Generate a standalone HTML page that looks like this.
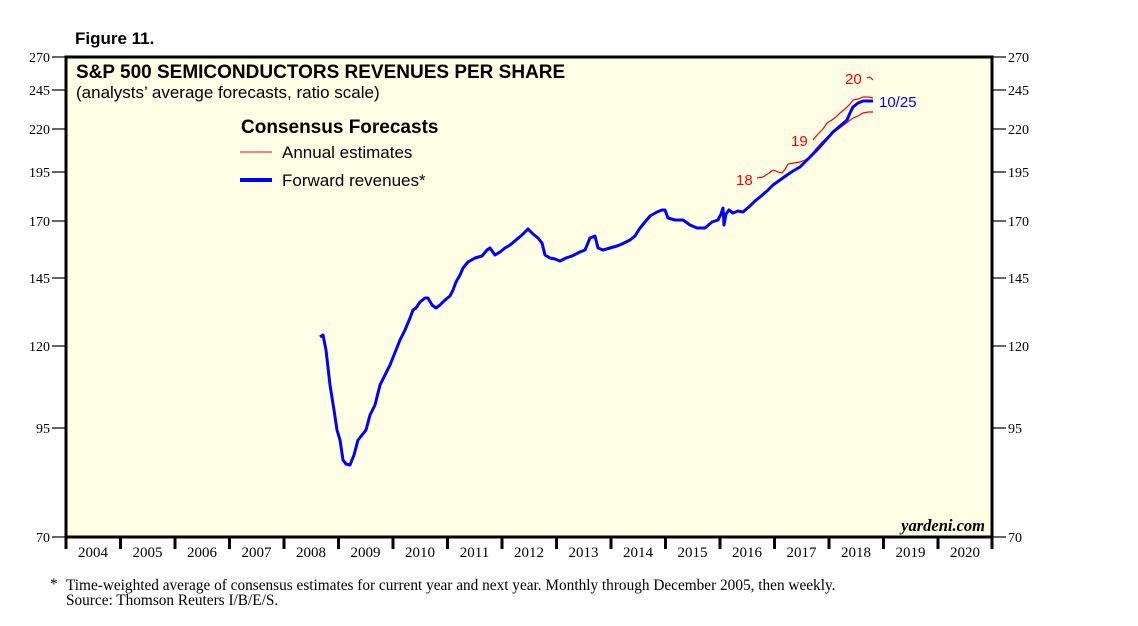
<!DOCTYPE html>
<html><head><meta charset="utf-8"><style>
body{margin:0;background:#fff;width:1138px;height:626px;overflow:hidden}
svg{display:block}
.s{font-family:"Liberation Sans",sans-serif}
.r{font-family:"Liberation Serif",serif}
</style></head><body>
<svg width="1138" height="626" viewBox="0 0 1138 626">
<text x="75" y="44" class="s" font-size="17" font-weight="bold">Figure 11.</text>
<rect x="66" y="57" width="926" height="480" fill="#ffffe6" stroke="#000" stroke-width="3"/>
<g class="r" font-size="14" fill="#000">
<g stroke="#000" stroke-width="1.2">
<line x1="52" y1="57" x2="66" y2="57"/><line x1="52" y1="90" x2="66" y2="90"/><line x1="52" y1="129" x2="66" y2="129"/><line x1="52" y1="172" x2="66" y2="172"/><line x1="52" y1="221" x2="66" y2="221"/><line x1="52" y1="278" x2="66" y2="278"/><line x1="52" y1="346" x2="66" y2="346"/><line x1="52" y1="428" x2="66" y2="428"/><line x1="52" y1="537" x2="66" y2="537"/>
<line x1="992" y1="57" x2="1006" y2="57"/><line x1="992" y1="90" x2="1006" y2="90"/><line x1="992" y1="129" x2="1006" y2="129"/><line x1="992" y1="172" x2="1006" y2="172"/><line x1="992" y1="221" x2="1006" y2="221"/><line x1="992" y1="278" x2="1006" y2="278"/><line x1="992" y1="346" x2="1006" y2="346"/><line x1="992" y1="428" x2="1006" y2="428"/><line x1="992" y1="537" x2="1006" y2="537"/>
</g>
<g text-anchor="end"><text x="50" y="62">270</text><text x="50" y="95">245</text><text x="50" y="134">220</text><text x="50" y="177">195</text><text x="50" y="226">170</text><text x="50" y="283">145</text><text x="50" y="351">120</text><text x="50" y="433">95</text><text x="50" y="542">70</text></g>
<g><text x="1008" y="62">270</text><text x="1008" y="95">245</text><text x="1008" y="134">220</text><text x="1008" y="177">195</text><text x="1008" y="226">170</text><text x="1008" y="283">145</text><text x="1008" y="351">120</text><text x="1008" y="433">95</text><text x="1008" y="542">70</text></g>
<g stroke="#000" stroke-width="3">
<line x1="66" y1="537" x2="66" y2="549"/><line x1="120.5" y1="537" x2="120.5" y2="549"/><line x1="175" y1="537" x2="175" y2="549"/><line x1="229.5" y1="537" x2="229.5" y2="549"/><line x1="284" y1="537" x2="284" y2="549"/><line x1="338.5" y1="537" x2="338.5" y2="549"/><line x1="393" y1="537" x2="393" y2="549"/><line x1="447.5" y1="537" x2="447.5" y2="549"/><line x1="502" y1="537" x2="502" y2="549"/><line x1="556.5" y1="537" x2="556.5" y2="549"/><line x1="611" y1="537" x2="611" y2="549"/><line x1="665.5" y1="537" x2="665.5" y2="549"/><line x1="720" y1="537" x2="720" y2="549"/><line x1="774.5" y1="537" x2="774.5" y2="549"/><line x1="829" y1="537" x2="829" y2="549"/><line x1="883.5" y1="537" x2="883.5" y2="549"/><line x1="938" y1="537" x2="938" y2="549"/><line x1="992" y1="537" x2="992" y2="549"/>
</g>
<g text-anchor="middle" font-size="15"><text x="93" y="557">2004</text><text x="147.5" y="557">2005</text><text x="202" y="557">2006</text><text x="256.5" y="557">2007</text><text x="311" y="557">2008</text><text x="365.5" y="557">2009</text><text x="420" y="557">2010</text><text x="474.5" y="557">2011</text><text x="529" y="557">2012</text><text x="583.5" y="557">2013</text><text x="638" y="557">2014</text><text x="692.5" y="557">2015</text><text x="747" y="557">2016</text><text x="801.5" y="557">2017</text><text x="856" y="557">2018</text><text x="910.5" y="557">2019</text><text x="965" y="557">2020</text></g>
<g font-size="15.3"><text x="50" y="589">*</text>
<text x="66" y="590">Time-weighted average of consensus estimates for current year and next year. Monthly through December 2005, then weekly.</text>
<text x="66" y="605">Source: Thomson Reuters I/B/E/S.</text></g>
<text x="985" y="531" text-anchor="end" font-style="italic" font-weight="bold" font-size="16.5">yardeni.com</text>
</g>
<text x="76" y="78" class="s" font-size="19" font-weight="bold">S&amp;P 500 SEMICONDUCTORS REVENUES PER SHARE</text>
<text x="76" y="98" class="s" font-size="17">(analysts’ average forecasts, ratio scale)</text>
<text x="241" y="133" class="s" font-size="19" font-weight="bold">Consensus Forecasts</text>
<line x1="240" y1="152" x2="272" y2="152" stroke="#f00" stroke-width="1"/>
<text x="282" y="158" class="s" font-size="17">Annual estimates</text>
<line x1="240" y1="180" x2="272" y2="180" stroke="#00f" stroke-width="4"/>
<text x="282" y="186" class="s" font-size="17">Forward revenues*</text>
<g fill="none" stroke="#f00" stroke-width="1.2">
<polyline points="757,178 763,177 769,173 773,170 778,172 782,173 786,168 788,164 794,163 800,162 805,160 810,157 815,150 822,142 830,135 837,130 845,124 853,118 858,116 863,113 868,112 873,112"/>
<polyline points="813,140 818,134 823,129 827,123 832,120 836,117 840,113 845,109 850,104 853,100 858,99 863,97 868,97 873,98"/>
<polyline points="867,78 869,77 871,78 873,80"/>
</g>
<polyline fill="none" stroke="#00f" stroke-width="3" stroke-linejoin="round" points="320,337 323,335 326,350 330,385 334,410 337,430 340,440 343,460 346,464 350,465 354,455 358,440 362,435 366,430 370,415 375,405 380,385 385,375 390,365 396,350 400,340 405,330 410,318 413,310 416,308 420,302 425,298 428,298 432,305 436,308 440,305 445,300 450,296 453,290 456,282 460,275 463,268 468,262 475,258 482,256 487,250 490,248 495,255 500,252 505,248 510,245 516,240 522,235 528,229 533,234 538,238 542,243 545,255 550,258 555,259 560,261 566,258 572,256 580,252 585,250 590,238 595,236 598,248 603,250 610,248 617,246 622,244 630,240 635,236 640,228 645,222 650,216 657,212 662,210 665,210 668,218 675,220 683,220 690,225 697,228 705,228 712,222 718,220 721,214 723,208 724,225 726,214 729,210 733,213 738,211 743,212 750,206 755,201 760,197 767,191 773,185 780,180 787,175 793,171 800,167 808,159 817,150 825,141 833,132 840,126 847,120 850,113 853,107 858,103 863,101 868,101 873,101"/>
<text x="879" y="107" class="s" font-size="15" fill="#00f">10/25</text>
<g class="s" font-size="15" fill="#f00"><text x="736" y="185">18</text><text x="791" y="146">19</text><text x="845" y="84">20</text></g>
</svg>
</body></html>
